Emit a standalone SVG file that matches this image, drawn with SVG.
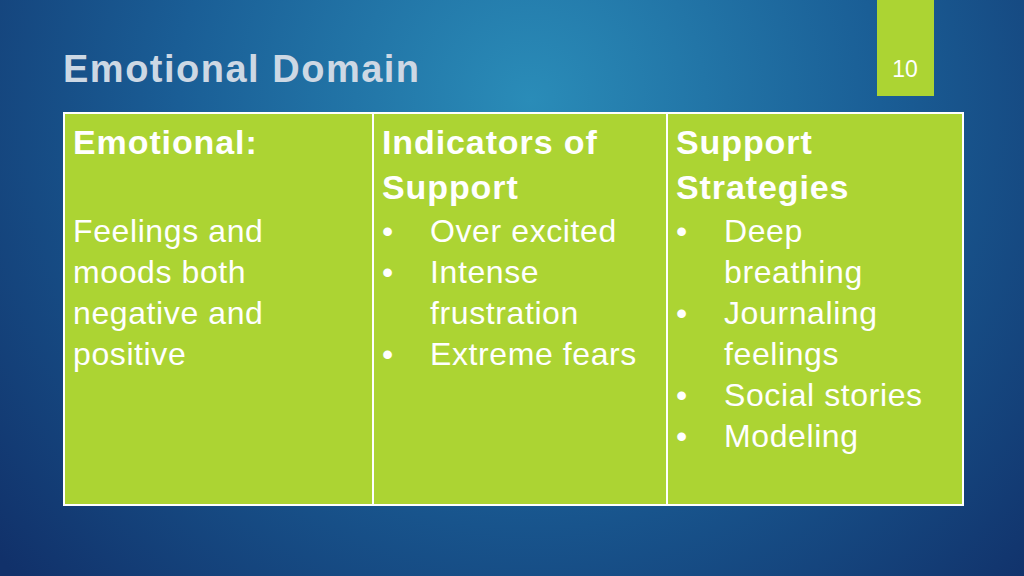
<svg xmlns="http://www.w3.org/2000/svg" width="1024" height="576" viewBox="0 0 1024 576">
<defs>
<radialGradient id="bg" cx="530" cy="100" r="700" gradientUnits="userSpaceOnUse">
<stop offset="0" stop-color="#2a8cb8"/>
<stop offset="0.5" stop-color="#1a5e96"/>
<stop offset="1" stop-color="#11316a"/>
</radialGradient>
<style>
text{font-family:"Liberation Sans",Arial,sans-serif;fill:#fff}
.h{font-size:34px;font-weight:bold;letter-spacing:0.9px}
.b{font-size:32px;letter-spacing:0.6px}
.cell{fill:#acd433;stroke:#fff;stroke-width:2}
</style>
</defs>
<rect width="1024" height="576" fill="url(#bg)"/>
<text x="63" y="82" style="font-size:38px;font-weight:bold;fill:#cdd8e4;letter-spacing:1.5px">Emotional Domain</text>
<g id="page"><rect x="877" y="0" width="57" height="96" fill="#acd433"/>
<text x="905" y="77" text-anchor="middle" style="font-size:23px">10</text></g>
<g id="col1"><rect class="cell" x="64" y="113" width="309" height="392"/>
<text x="73" y="154" class="h">Emotional:</text>
<text class="b"><tspan x="73" y="242">Feelings and</tspan><tspan x="73" y="283">moods both</tspan><tspan x="73" y="324">negative and</tspan><tspan x="73" y="365">positive</tspan></text></g>
<g id="col2"><rect class="cell" x="373" y="113" width="294" height="392"/>
<text class="h"><tspan x="382" y="154">Indicators of</tspan><tspan x="382" y="199">Support</tspan></text>
<text class="b"><tspan x="382" y="242">•</tspan><tspan x="430" y="242">Over excited</tspan><tspan x="382" y="283">•</tspan><tspan x="430" y="283">Intense</tspan><tspan x="430" y="324">frustration</tspan><tspan x="382" y="365">•</tspan><tspan x="430" y="365">Extreme fears</tspan></text></g>
<g id="col3"><rect class="cell" x="667" y="113" width="296" height="392"/>
<text class="h"><tspan x="676" y="154">Support</tspan><tspan x="676" y="199">Strategies</tspan></text>
<text class="b"><tspan x="676" y="242">•</tspan><tspan x="724" y="242">Deep</tspan><tspan x="724" y="283">breathing</tspan><tspan x="676" y="324">•</tspan><tspan x="724" y="324">Journaling</tspan><tspan x="724" y="365">feelings</tspan><tspan x="676" y="406">•</tspan><tspan x="724" y="406">Social stories</tspan><tspan x="676" y="447">•</tspan><tspan x="724" y="447">Modeling</tspan></text></g>
<g id="connectors"/>
</svg>
